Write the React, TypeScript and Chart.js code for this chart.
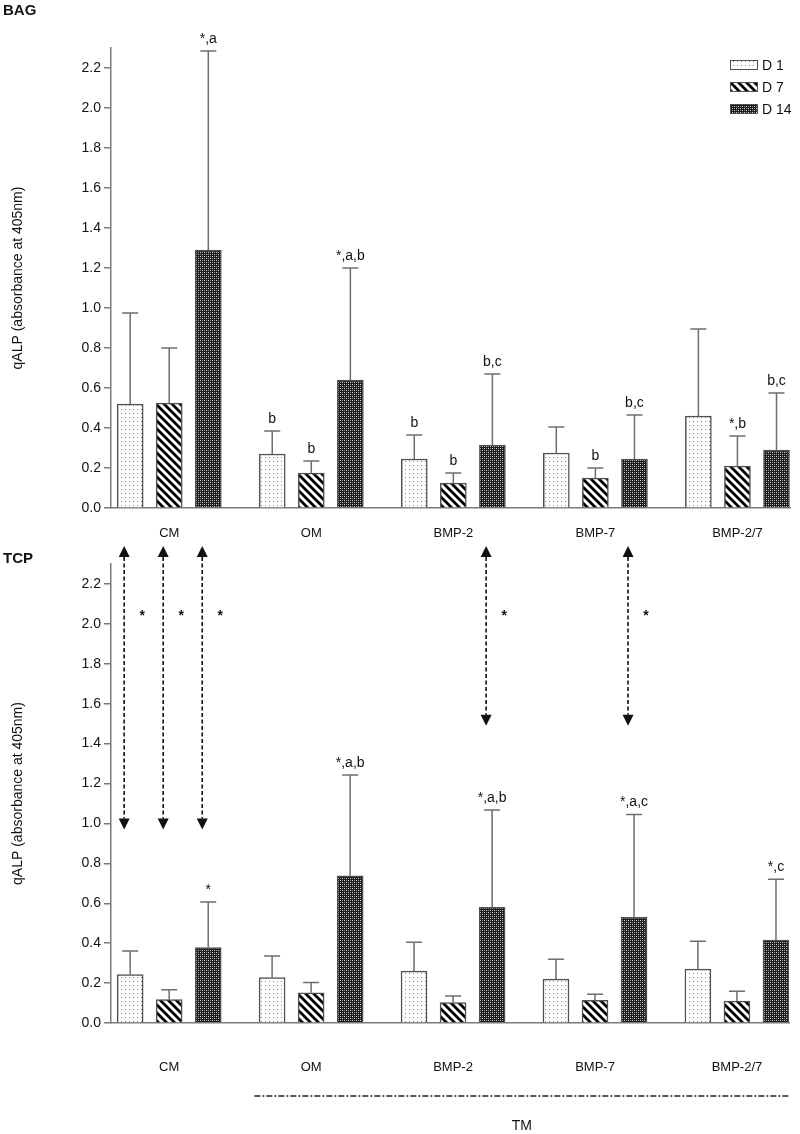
import React, { useEffect, useRef } from 'react';
import { Chart, registerables } from 'chart.js';

Chart.register(...registerables);

const FONT = '"Liberation Sans", Arial, Helvetica, sans-serif';

const groups = ['CM', 'OM', 'BMP-2', 'BMP-7', 'BMP-2/7'];
const seriesNames = ['D 1', 'D 7', 'D 14'];
const yTitle = 'qALP (absorbance at 405nm)';

// BAG panel (means, upper SD, significance marks)
const bagD1 = [0.52, 0.27, 0.245, 0.275, 0.46];
const bagD7 = [0.525, 0.175, 0.125, 0.15, 0.21];
const bagD14 = [1.29, 0.64, 0.315, 0.245, 0.29];
const bagD1Err = [0.455, 0.115, 0.12, 0.13, 0.435];
const bagD7Err = [0.275, 0.06, 0.05, 0.05, 0.15];
const bagD14Err = [0.995, 0.56, 0.355, 0.22, 0.285];
const bagD1Sig = ['', 'b', 'b', '', ''];
const bagD7Sig = ['', 'b', 'b', 'b', '*,b'];
const bagD14Sig = ['*,a', '*,a,b', 'b,c', 'b,c', 'b,c'];

// TCP panel
const tcpD1 = [0.243, 0.228, 0.26, 0.22, 0.27];
const tcpD7 = [0.117, 0.151, 0.102, 0.114, 0.11];
const tcpD14 = [0.378, 0.738, 0.58, 0.53, 0.415];
const tcpD1Err = [0.118, 0.108, 0.145, 0.1, 0.14];
const tcpD7Err = [0.049, 0.052, 0.033, 0.03, 0.049];
const tcpD14Err = [0.228, 0.505, 0.487, 0.515, 0.305];
const tcpD1Sig = ['', '', '', '', ''];
const tcpD7Sig = ['', '', '', '', ''];
const tcpD14Sig = ['*', '*,a,b', '*,a,b', '*,a,c', '*,c'];

// BAG vs TCP comparison arrows (drawn on TCP scale)
const arrowGroup = [0, 0, 0, 2, 3];
const arrowSeries = [0, 1, 2, 2, 2];
const arrowFrom = [2.39, 2.39, 2.39, 2.39, 2.39];
const arrowTo = [0.97, 0.97, 0.97, 1.49, 1.49];
const arrowMark = ['*', '*', '*', '*', '*'];
const arrowMarkValue = 2.06;

const tmLabel = 'TM';
const tmFromGroup = 0.6;

const yMax = 2.3;
const yStep = 0.2;
const xMin = -0.41;
const xMax = 4.37;
const seriesOffset = [-0.275, 0, 0.275];

function tile(w: number, h: number, draw: (g: CanvasRenderingContext2D) => void) {
  const c = document.createElement('canvas');
  c.width = w;
  c.height = h;
  const g = c.getContext('2d') as CanvasRenderingContext2D;
  draw(g);
  return c;
}

function makePatterns(ctx: CanvasRenderingContext2D): any[] {
  const dots = tile(4, 4, (g) => {
    g.fillStyle = '#ffffff';
    g.fillRect(0, 0, 4, 4);
    g.fillStyle = '#8a8a8a';
    g.fillRect(1, 1, 1, 1);
  });
  const stripes = tile(8, 8, (g) => {
    g.fillStyle = '#ffffff';
    g.fillRect(0, 0, 8, 8);
    g.strokeStyle = '#000000';
    g.lineWidth = 2.7;
    for (const c of [-8, 0, 8]) {
      g.beginPath();
      g.moveTo(-2, c - 2);
      g.lineTo(10, c + 10);
      g.stroke();
    }
  });
  const checks = tile(4, 4, (g) => {
    g.fillStyle = '#1c1c1c';
    g.fillRect(0, 0, 4, 4);
    g.fillStyle = '#d8d8d8';
    g.fillRect(0, 0, 1, 1);
    g.fillRect(2, 2, 1, 1);
    g.fillStyle = '#8a8a8a';
    g.fillRect(2, 0, 1, 1);
    g.fillRect(0, 2, 1, 1);
  });
  return [
    ctx.createPattern(dots, 'repeat'),
    ctx.createPattern(stripes, 'repeat'),
    ctx.createPattern(checks, 'repeat'),
  ];
}

type Panel = {
  name: string;
  nameY: number;
  means: number[][];
  errs: number[][];
  sigs: string[][];
  padTop: number;
  xHeight: number;
  labelPad: number;
  legend: boolean;
  arrows: boolean;
  tm: boolean;
};

function buildChart(canvas: HTMLCanvasElement, panel: Panel) {
  const ctx = canvas.getContext('2d') as CanvasRenderingContext2D;
  const pats = makePatterns(ctx);

  const errPlugin = {
    id: 'errs',
    afterDatasetsDraw(chart: any) {
      const c = chart.ctx;
      const ys = chart.scales.y;
      c.save();
      panel.means.forEach((m, s) => {
        const meta = chart.getDatasetMeta(s);
        meta.data.forEach((bar: any, i: number) => {
          const topPx = ys.getPixelForValue(m[i]);
          const capPx = ys.getPixelForValue(m[i] + panel.errs[s][i]);
          c.strokeStyle = '#6e6e6e';
          c.lineWidth = 1.5;
          c.beginPath();
          c.moveTo(bar.x, topPx);
          c.lineTo(bar.x, capPx);
          c.moveTo(bar.x - 8, capPx);
          c.lineTo(bar.x + 8, capPx);
          c.stroke();
          const txt = panel.sigs[s][i];
          if (txt) {
            c.fillStyle = '#111';
            c.font = `14px ${FONT}`;
            c.textAlign = 'center';
            c.textBaseline = 'alphabetic';
            c.fillText(txt, bar.x, capPx - 8);
          }
        });
      });
      c.restore();
    },
  };

  const decoPlugin = {
    id: 'deco',
    afterDraw(chart: any) {
      const c = chart.ctx;
      const area = chart.chartArea;
      const xs = chart.scales.x;
      const ys = chart.scales.y;
      c.save();
      // panel name
      c.fillStyle = '#111';
      c.font = `bold 15px ${FONT}`;
      c.textAlign = 'left';
      c.textBaseline = 'middle';
      c.fillText(panel.name, 3, panel.nameY);

      if (panel.legend) {
        const bx = area.right - 60;
        seriesNames.forEach((n, s) => {
          const cy = area.top + 17 + s * 22;
          c.fillStyle = pats[s];
          c.fillRect(bx, cy - 5, 28, 10);
          c.strokeStyle = '#505050';
          c.lineWidth = 1;
          c.strokeRect(bx + 0.5, cy - 4.5, 27, 9);
          c.fillStyle = '#111';
          c.font = `14px ${FONT}`;
          c.textAlign = 'left';
          c.textBaseline = 'middle';
          c.fillText(n, bx + 32, cy + 1);
        });
      }

      if (panel.arrows) {
        arrowGroup.forEach((g, k) => {
          const meta = chart.getDatasetMeta(arrowSeries[k]);
          const bar: any = meta.data[g];
          const x = bar.x - 6;
          const y1 = ys.getPixelForValue(arrowFrom[k]);
          const y2 = ys.getPixelForValue(arrowTo[k]);
          const head = 11;
          c.strokeStyle = '#111';
          c.lineWidth = 1.6;
          c.setLineDash([4, 2.5]);
          c.beginPath();
          c.moveTo(x, y1 + head);
          c.lineTo(x, y2 - head);
          c.stroke();
          c.setLineDash([]);
          c.fillStyle = '#111';
          c.beginPath();
          c.moveTo(x, y1);
          c.lineTo(x - 5.5, y1 + head);
          c.lineTo(x + 5.5, y1 + head);
          c.closePath();
          c.fill();
          c.beginPath();
          c.moveTo(x, y2);
          c.lineTo(x - 5.5, y2 - head);
          c.lineTo(x + 5.5, y2 - head);
          c.closePath();
          c.fill();
          c.font = `bold 14px ${FONT}`;
          c.textAlign = 'center';
          c.textBaseline = 'alphabetic';
          c.fillText(arrowMark[k], x + 18, ys.getPixelForValue(arrowMarkValue) + 8);
        });
      }

      if (panel.tm) {
        const ly = area.bottom + 73;
        const x1 = xs.getPixelForValue(tmFromGroup);
        const x2 = area.right;
        c.strokeStyle = '#222';
        c.lineWidth = 1.5;
        c.setLineDash([6, 2, 2, 2]);
        c.beginPath();
        c.moveTo(x1, ly);
        c.lineTo(x2, ly);
        c.stroke();
        c.setLineDash([]);
        c.fillStyle = '#111';
        c.font = `14px ${FONT}`;
        c.textAlign = 'center';
        c.textBaseline = 'middle';
        c.fillText(tmLabel, (x1 + x2) / 2, area.bottom + 103);
      }
      c.restore();
    },
  };

  return new Chart(ctx, {
    type: 'bar',
    data: {
      datasets: panel.means.map((m, s) => ({
        label: seriesNames[s],
        data: m.map((v, i) => ({ x: i + seriesOffset[s], y: v })),
        backgroundColor: pats[s],
        borderColor: '#505050',
        borderWidth: 1.5,
        barThickness: 26,
        grouped: false,
      })),
    } as any,
    options: {
      responsive: false,
      animation: false,
      layout: { padding: { top: panel.padTop, right: 10, left: 0, bottom: 0 } },
      plugins: { legend: { display: false }, tooltip: { enabled: false } },
      scales: {
        x: {
          type: 'linear',
          min: xMin,
          max: xMax,
          offset: false,
          afterBuildTicks: (ax: any) => {
            ax.ticks = groups.map((_, i) => ({ value: i }));
          },
          afterFit: (ax: any) => {
            ax.height = panel.xHeight;
          },
          grid: { display: false, drawTicks: false },
          border: { display: true, color: '#7a7a7a', width: 1.5 },
          ticks: {
            autoSkip: false,
            maxRotation: 0,
            padding: panel.labelPad,
            color: '#111',
            font: { size: 13, family: FONT },
            callback: (v: any) => groups[Math.round(Number(v))] ?? '',
          },
        },
        y: {
          type: 'linear',
          min: 0,
          max: yMax,
          afterFit: (ax: any) => {
            ax.width = 111;
          },
          ticks: {
            stepSize: yStep,
            includeBounds: false,
            padding: 3,
            color: '#111',
            font: { size: 14, family: FONT },
            callback: (v: any) => Number(v).toFixed(1),
          },
          grid: {
            display: true,
            drawOnChartArea: false,
            drawTicks: true,
            tickLength: 7,
            color: '#7a7a7a',
            lineWidth: 1.5,
          },
          border: { display: true, color: '#7a7a7a', width: 1.5 },
          title: {
            display: true,
            text: yTitle,
            color: '#111',
            font: { size: 14, family: FONT },
            padding: { top: 10, bottom: 0 },
          },
        },
      },
    } as any,
    plugins: [errPlugin, decoPlugin],
  });
}

export default function App() {
  const topRef = useRef<HTMLCanvasElement>(null);
  const botRef = useRef<HTMLCanvasElement>(null);

  useEffect(() => {
    const c1 = buildChart(topRef.current as HTMLCanvasElement, {
      name: 'BAG',
      nameY: 11,
      means: [bagD1, bagD7, bagD14],
      errs: [bagD1Err, bagD7Err, bagD14Err],
      sigs: [bagD1Sig, bagD7Sig, bagD14Sig],
      padTop: 48,
      xHeight: 37,
      labelPad: 18,
      legend: true,
      arrows: false,
      tm: false,
    });
    const c2 = buildChart(botRef.current as HTMLCanvasElement, {
      name: 'TCP',
      nameY: 39,
      means: [tcpD1, tcpD7, tcpD14],
      errs: [tcpD1Err, tcpD7Err, tcpD14Err],
      sigs: [tcpD1Sig, tcpD7Sig, tcpD14Sig],
      padTop: 44,
      xHeight: 111,
      labelPad: 37,
      legend: false,
      arrows: true,
      tm: true,
    });
    return () => {
      c1.destroy();
      c2.destroy();
    };
  }, []);

  return (
    <div style={{ position: 'absolute', left: 0, top: 0, width: 800, height: 1134, background: '#fff' }}>
      <canvas ref={topRef} width={800} height={545} style={{ position: 'absolute', left: 0, top: 0, display: 'block' }} />
      <canvas ref={botRef} width={800} height={614} style={{ position: 'absolute', left: 0, top: 520, display: 'block' }} />
    </div>
  );
}
